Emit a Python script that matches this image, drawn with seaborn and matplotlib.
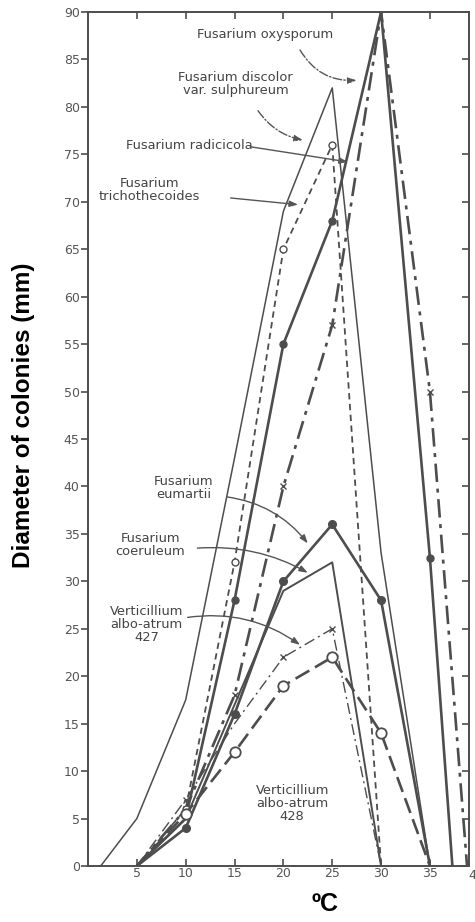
import matplotlib
matplotlib.use("Agg")
import matplotlib.pyplot as plt
import seaborn as sns
import pandas as pd

# ---- data ----
oxy_t = [5, 10, 15, 20, 25, 30, 35, 37.3]
oxy_d = [0, 5, 28, 55, 68, 90, 32.5, 0]

disc_t = [1.3, 5, 10, 15, 20, 25, 30, 35]
disc_d = [0, 5, 17.5, 43, 69, 82, 33, 0]

rad_t = [5, 10, 15, 20, 25, 30, 35, 38.8]
rad_d = [0, 6, 18, 40, 57, 90, 50, 0]

tri_t = [5, 10, 15, 20, 25, 30]
tri_d = [0, 6, 32, 65, 76, 0]

eum_t = [5, 10, 15, 20, 25, 30, 35]
eum_d = [0, 4, 16, 30, 36, 28, 0]

coe_t = [5, 10, 15, 20, 25, 30]
coe_d = [0, 5, 17, 29, 32, 0]

v427_t = [5, 10, 15, 20, 25, 30]
v427_d = [0, 7, 15, 22, 25, 0]

v428_t = [5, 10, 15, 20, 25, 30, 35]
v428_d = [0, 5.5, 12, 19, 22, 14, 0]

x_ticks = [5, 10, 15, 20, 25, 30, 35]
y_ticks = list(range(0, 95, 5))

sns.set_style("ticks")
plt.rcParams['font.family'] = ['DejaVu Sans']

C = '#4d4d4d'
fig = plt.figure(figsize=(4.75, 9.22), dpi=100)
ax = fig.add_axes([88/475, 56/922, 381/475, 854/922])

def draw(t, d, ls, lw, marker=None, mevery=None, ms=5, mfc=C, mew=1.0):
    df = pd.DataFrame({'t': t, 'd': d})
    kw = dict(color=C, linewidth=lw, linestyle=ls, ax=ax, sort=False)
    if marker:
        kw.update(marker=marker, markevery=mevery, markersize=ms,
                  markerfacecolor=mfc, markeredgecolor=C, markeredgewidth=mew)
    sns.lineplot(data=df, x='t', y='d', **kw)

draw(oxy_t, oxy_d, '-', 1.9, 'o', [2, 3, 4, 6], ms=5)
draw(disc_t, disc_d, '-', 1.1)
draw(rad_t, rad_d, (0, (7, 2.5, 1.5, 2.5)), 1.9, 'x', [1, 2, 3, 4, 6], ms=5)
draw(tri_t, tri_d, (0, (3.5, 2.5)), 1.3, 'o', [1, 2, 3, 4], ms=5, mfc='white')
draw(eum_t, eum_d, '-', 1.9, 'o', [1, 2, 3, 4, 5], ms=5.5)
draw(coe_t, coe_d, '-', 1.4)
draw(v427_t, v427_d, (0, (8, 3, 1.5, 3)), 1.0, 'x', [1, 3, 4], ms=5)
draw(v428_t, v428_d, (0, (6, 2.5)), 1.9, 'o', [1, 2, 3, 4, 5], ms=7.5, mfc='white', mew=1.3)

ax.set_xlim(0, 39.0)
ax.set_ylim(0, 90)
ax.set_xticks(x_ticks)
ax.set_yticks(y_ticks)
ax.set_yticklabels([str(v) for v in y_ticks])
for s in ax.spines.values():
    s.set_visible(True)
    s.set_color(C)
    s.set_linewidth(1.4)
ax.tick_params(axis='y', left=True, right=True, direction='out', length=5,
               width=1.2, color=C, labelsize=9, labelcolor='#555555', pad=1)
ax.tick_params(axis='x', bottom=True, top=True, direction='in', length=5,
               width=1.2, color=C, labelsize=9, labelcolor='#555555', pad=1)
# right ticks point inward
for tl in ax.yaxis.get_ticklines()[1::2]:
    tl.set_marker(0)
# partially visible "40" label at the right edge of the reference
ax.annotate('4', xy=(1.0, 0.0), xycoords='axes fraction', xytext=(-0.5, -2.5),
            textcoords='offset points', ha='left', va='top', fontsize=9,
            color='#555555', annotation_clip=False)

tcol = '#444444'
fs = 9.4
def label(txt, xy, xytext=None, rad=0.0, ls='-', start=None):
    if xytext is None:
        ax.text(xy[0], xy[1], txt, ha='center', va='center', fontsize=fs,
                color=tcol, linespacing=1.0)
        return
    ax.text(xytext[0], xytext[1], txt, ha='center', va='center', fontsize=fs,
            color=tcol, linespacing=1.0)
    ax.annotate('', xy=xy, xytext=start,
                arrowprops=dict(arrowstyle='-|>,head_length=0.5,head_width=0.18',
                                color='#555555', lw=1.0, linestyle=ls,
                                connectionstyle=f'arc3,rad={rad}',
                                shrinkA=0, shrinkB=0))

label('Fusarium oxysporum', (27.5, 82.8), (18.1, 87.6), rad=0.3, ls='-.', start=(21.7, 86.0))
label('Fusarium discolor\nvar. sulphureum', (22.0, 76.5), (15.1, 82.4), rad=0.2, ls='-.', start=(17.4, 79.6))
label('Fusarium radicicola', (26.6, 74.2), (10.4, 75.9), rad=0.0, start=(16.6, 75.8))
label('Fusarium\ntrichothecoides', (21.5, 69.7), (6.3, 71.2), rad=0.0, start=(14.6, 70.4))
label('Fusarium\neumartii', (22.5, 34.0), (9.8, 39.8), rad=-0.2, start=(14.2, 38.9))
label('Fusarium\ncoeruleum', (22.5, 30.9), (6.4, 33.8), rad=-0.15, start=(11.2, 33.5))
label('Verticillium\nalbo-atrum\n427', (21.7, 23.3), (6.0, 25.4), rad=-0.2, start=(10.2, 26.2))
label('Verticillium\nalbo-atrum\n428', (20.9, 6.6))

ax.set_xlabel('ºC', fontsize=18, fontweight='bold', color='black',
              family=['Liberation Sans', 'DejaVu Sans'])
ax.xaxis.set_label_coords(0.622, -0.030)
ax.set_ylabel('Diameter of colonies (mm)', fontsize=17.5, fontweight='bold',
              color='black', family=['Liberation Sans Narrow', 'Liberation Sans', 'DejaVu Sans'])
ax.yaxis.set_label_coords(-0.14, 0.528)

fig.savefig('out.png', dpi=100, facecolor='white')
